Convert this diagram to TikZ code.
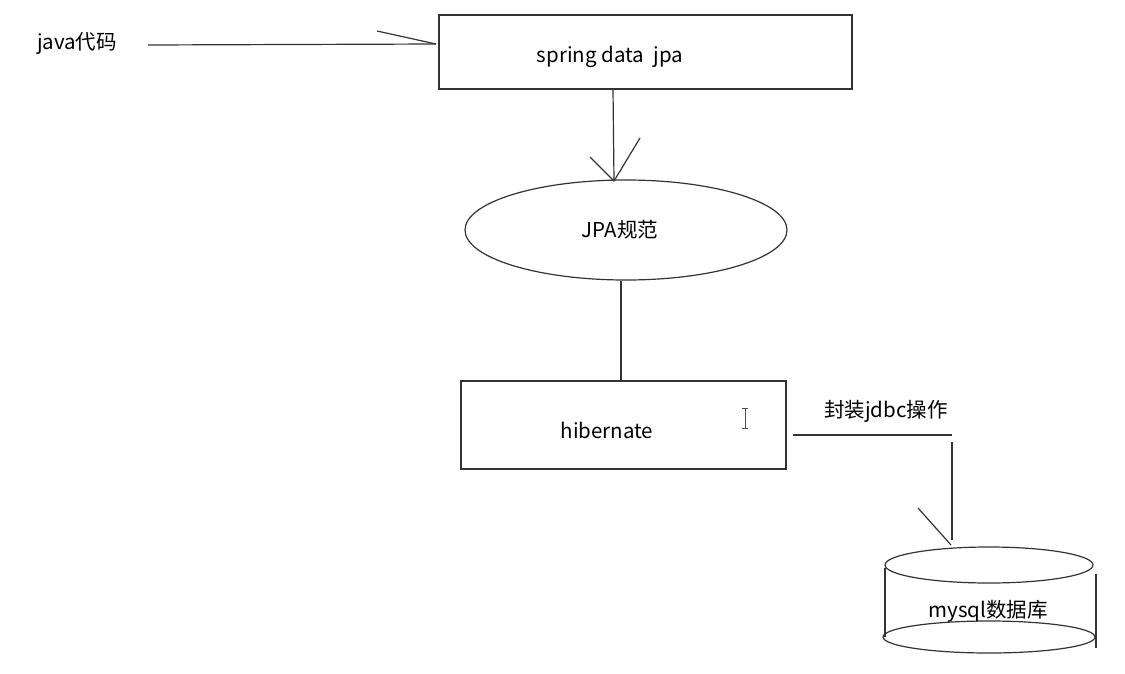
\documentclass[tikz,border=0pt]{standalone}
\usepackage{fontspec}
\setmainfont{Noto Sans CJK SC}
\usetikzlibrary{shapes.geometric}
\begin{document}
\begin{tikzpicture}[x=1pt,y=-1pt,
  ln/.style={draw=black!80,line width=1.2pt},
  lbl/.style={font=\fontsize{20.5}{24}\selectfont,text=black,inner sep=0pt}]
\useasboundingbox[fill=white] (0,0) rectangle (1125,673);
% nodes
\node[lbl] (java) at (77,43) {java代码};
\node[ln,minimum width=413pt,minimum height=74pt,inner sep=0pt] (spring) at (645.5,52) {};
\node[lbl] (springt) at (610,57) {spring data\ \ jpa};
\node[ln,ellipse,minimum width=322pt,minimum height=100pt,inner sep=0pt] (jpa) at (626,230) {};
\node[lbl] (jpat) at (620,230) {JPA规范};
\node[ln,minimum width=325pt,minimum height=88pt,inner sep=0pt] (hib) at (623.5,425) {};
\node[lbl] (hibt) at (607,430) {hibernate};
\node[lbl] (jdbc) at (886,411) {封装jdbc操作};
\node[lbl] (mysql) at (988,611) {mysql数据库};
% coordinates
\coordinate (j1) at (148,45);
\coordinate (j2) at (436,44);
\coordinate (jb) at (377,31);
\coordinate (s1) at (613,89);
\coordinate (s2) at (614,181);
\coordinate (sb1) at (590,157);
\coordinate (sb2) at (640,138);
\coordinate (e1) at (621,281);
\coordinate (e2) at (621,381);
\coordinate (h1) at (793,435);
\coordinate (h2) at (952,435);
\coordinate (v1) at (952,442);
\coordinate (v2) at (952,540);
\coordinate (vb1) at (918,508);
\coordinate (vb2) at (951,545);
% connectors
\draw[ln] (j1) -- (j2);
\draw[ln] (jb) -- (j2);
\draw[ln] (s1) -- (s2);
\draw[ln] (sb1) -- (s2);
\draw[ln] (sb2) -- (s2);
\draw[ln] (e1) -- (e2);
\draw[ln] (h1) -- (h2);
\draw[ln] (v1) -- (v2);
\draw[ln] (vb1) -- (vb2);
% cylinder
\draw[ln] (989,565) ellipse [x radius=104, y radius=18];
\draw[ln] (989,637) ellipse [x radius=106, y radius=16];
\draw[ln] (885,568) -- (885,637);
\draw[ln] (1096,574) -- (1096,648);
% text cursor
\draw[black!70,line width=1pt] (745,408) -- (745,428) (742,408) -- (748,408) (742,428) -- (748,428);
\end{tikzpicture}
\end{document}
